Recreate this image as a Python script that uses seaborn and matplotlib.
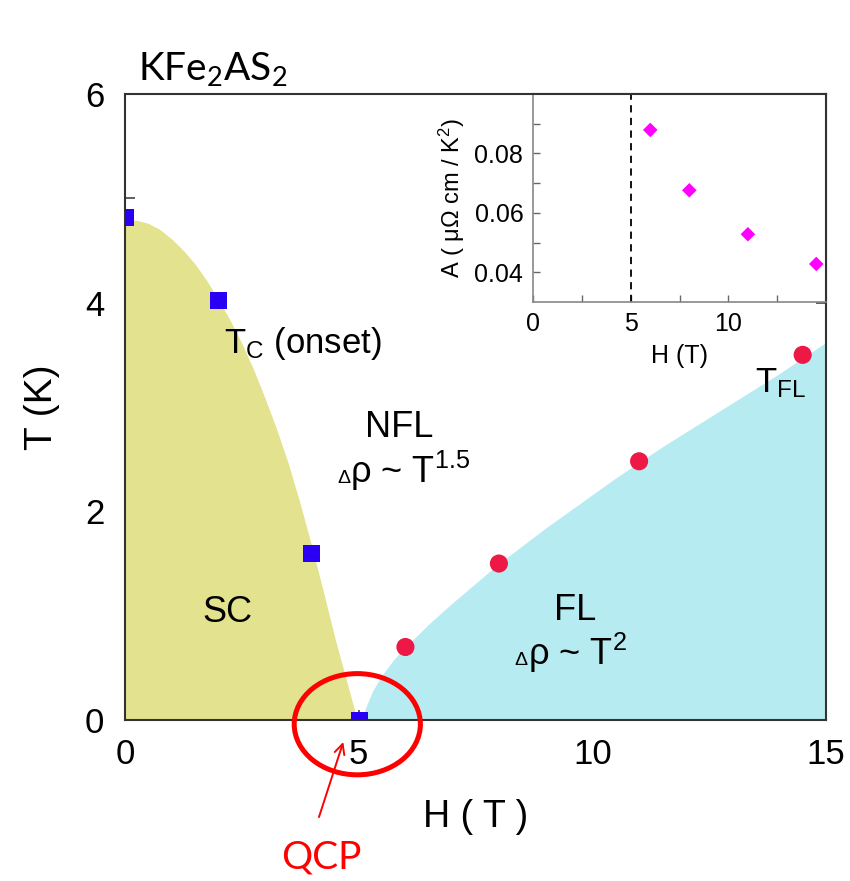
import matplotlib
matplotlib.use("Agg")
import matplotlib.pyplot as plt
import seaborn as sns
from matplotlib.patches import Ellipse
from matplotlib.ticker import FixedLocator

# ---------------- data ----------------
H_tc = [0.0, 2.0, 4.0, 5.02]          # Tc (onset) squares
T_tc = [4.82, 4.02, 1.60, 0.0]

H_tfl = [6.0, 8.0, 11.0, 14.5]         # T_FL circles
T_tfl = [0.70, 1.50, 2.48, 3.50]

H_A = [6.0, 8.0, 11.0, 14.5]           # inset A coefficient
A_val = [0.0879, 0.0676, 0.0528, 0.0428]

# region boundaries
sc_H = [0.0, 0.25, 0.5, 0.75, 1.0, 1.25, 1.5, 1.75, 2.0, 2.25, 2.5, 2.75, 3.0,
        3.25, 3.5, 3.75, 4.0, 4.25, 4.5, 4.75, 4.97]
sc_T = [4.80, 4.79, 4.76, 4.70, 4.61, 4.50, 4.37, 4.21, 4.03, 3.83, 3.61, 3.36, 3.08,
        2.78, 2.45, 2.07, 1.66, 1.22, 0.77, 0.36, 0.0]

fl_H = [5.08, 5.15, 5.3, 5.5, 5.75, 6.0, 6.5, 7.0, 7.5, 8.0, 8.5, 9.0, 9.5, 10.0,
        10.5, 11.0, 11.5, 12.0, 12.5, 13.0, 13.5, 14.0, 14.5, 15.0]
fl_T = [0.0, 0.12, 0.28, 0.43, 0.58, 0.70, 0.92, 1.12, 1.31, 1.50, 1.67, 1.84, 2.00, 2.16,
        2.32, 2.47, 2.62, 2.76, 2.90, 3.04, 3.18, 3.32, 3.47, 3.62]

QCP_H = 5.0

# ---------------- style ----------------
sns.set_style("ticks")
plt.rcParams["font.family"] = ["Liberation Sans", "DejaVu Sans"]
plt.rcParams["mathtext.default"] = "regular"
plt.rcParams["text.color"] = "black"
plt.rcParams["axes.labelcolor"] = "black"

YELLOW = "#E3E28F"
CYAN = "#B7EBF2"
BLUE = "#2A00F5"
RED = "#EE1846"
MAGENTA = "#FF00FF"

fig = plt.figure(figsize=(8.5, 8.81), dpi=100)
ax = fig.add_axes([0.1471, 0.1827, 0.8247, 0.7106])

ax.fill_between(sc_H, 0, sc_T, color=YELLOW, lw=0, zorder=1)
ax.fill_between(fl_H, 0, fl_T, color=CYAN, lw=0, zorder=1)

sns.scatterplot(x=H_tc, y=T_tc, marker="s", s=150, color=BLUE, edgecolor="none",
                ax=ax, zorder=5, legend=False)
sns.scatterplot(x=H_tfl, y=T_tfl, marker="o", s=170, color=RED, edgecolor="none",
                ax=ax, zorder=5, legend=False)

ax.set_xlim(0, 15)
ax.set_ylim(0, 6)
ax.xaxis.set_major_locator(FixedLocator([0, 5, 10, 15]))
ax.xaxis.set_minor_locator(FixedLocator([2.5, 7.5, 12.5]))
ax.yaxis.set_major_locator(FixedLocator([0, 2, 4, 6]))
ax.yaxis.set_minor_locator(FixedLocator([1, 3, 5]))
ax.tick_params(axis="both", which="both", direction="in", length=7, width=1.2,
               top=False, right=True, colors="#444444", labelcolor="black")
ax.tick_params(axis="x", which="major", labelsize=25, pad=13)
ax.tick_params(axis="y", which="major", labelsize=25, pad=15)
for s in ax.spines.values():
    s.set_color("#333333")
    s.set_linewidth(1.5)
ax.set_xlabel("H ( T )", fontsize=27, labelpad=20, color="black")
ax.set_ylabel("T (K)", fontsize=28, labelpad=18, color="black")

# region labels
FS = 26
ax.text(2.12, 3.52, "T$_C$ (onset)", fontsize=25, ha="left", va="baseline", zorder=6)
ax.text(5.87, 2.71, "NFL", fontsize=FS, ha="center", va="baseline", zorder=6)
ax.text(4.82, 2.27, "ρ ~ T$^{1.5}$", fontsize=FS, ha="left", va="baseline", zorder=6)
ax.text(4.82, 2.27, "Δ", fontsize=14, ha="right", va="baseline", zorder=6)
ax.text(2.2, 0.94, "SC", fontsize=FS, ha="center", va="baseline", zorder=6)
ax.text(9.64, 0.96, "FL", fontsize=FS, ha="center", va="baseline", zorder=6)
ax.text(8.62, 0.53, "ρ ~ T$^2$", fontsize=FS, ha="left", va="baseline", zorder=6)
ax.text(8.62, 0.53, "Δ", fontsize=14, ha="right", va="baseline", zorder=6)
ax.text(13.49, 3.14, "T$_{FL}$", fontsize=25, ha="left", va="baseline", zorder=6)

# QCP annotation
ell = Ellipse((4.97, -0.04), 2.70, 0.97, fill=False, edgecolor="red", lw=3.6,
              clip_on=False, zorder=10)
ax.add_patch(ell)
ax.annotate("", xy=(4.67, -0.21), xytext=(4.15, -0.93),
            arrowprops=dict(arrowstyle="->", color="red", lw=1.4,
                            mutation_scale=18, shrinkA=0, shrinkB=0),
            annotation_clip=False, zorder=10)
ax.text(4.2, -1.32, "QCP", fontsize=28, color="red", family=["Lato", "DejaVu Sans"],
        ha="center", va="center", clip_on=False)

fig.text(0.1624, 0.9092, "KFe$_2$AS$_2$", fontsize=28, family=["Lato", "DejaVu Sans"],
         ha="left", va="baseline", color="black")

# ---------------- inset ----------------
axi = fig.add_axes([0.6271, 0.6572, 0.3447, 0.2361])
axi.set_facecolor("white")
axi.axvline(QCP_H, color="black", ls=(0, (4, 3)), lw=1.3, zorder=2)
sns.scatterplot(x=H_A, y=A_val, marker="D", s=55, color=MAGENTA, edgecolor="none",
                ax=axi, zorder=5, legend=False)
axi.set_xlim(0, 15)
axi.set_ylim(0.03, 0.1)
axi.xaxis.set_major_locator(FixedLocator([0, 5, 10]))
axi.xaxis.set_minor_locator(FixedLocator([2.5, 7.5, 12.5]))
axi.yaxis.set_major_locator(FixedLocator([0.04, 0.06, 0.08]))
axi.yaxis.set_minor_locator(FixedLocator([0.05, 0.07, 0.09]))
axi.tick_params(axis="both", which="both", direction="in", length=5, width=1,
                colors="#666666", labelcolor="black", labelsize=18)
axi.tick_params(axis="x", which="major", pad=7)
axi.tick_params(axis="y", which="major", pad=7)
for name, s in axi.spines.items():
    if name in ("left", "bottom"):
        s.set_color("#888888")
        s.set_linewidth(1.2)
    else:
        s.set_color("#333333")
        s.set_linewidth(1.5)
axi.set_xlabel("H (T)", fontsize=18, labelpad=6, color="black")
axi.set_ylabel("A ( μΩ cm / K$^2$)", fontsize=17, labelpad=5, color="black")

fig.savefig("out.png", dpi=100)
